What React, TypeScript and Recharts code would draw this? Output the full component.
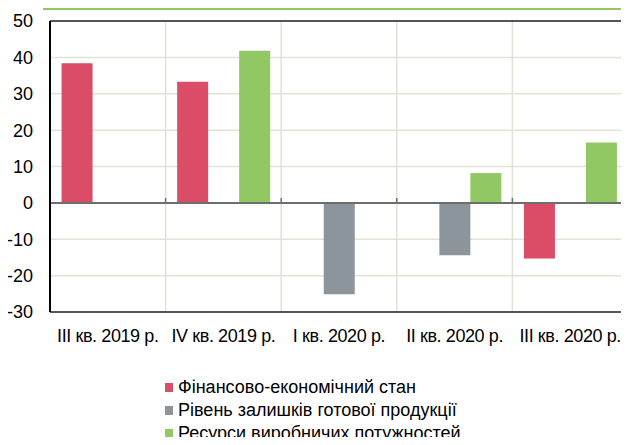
import { BarChart, Bar, XAxis, YAxis, CartesianGrid, ReferenceLine } from 'recharts'

const quarters = ['III кв. 2019 р.', 'IV кв. 2019 р.', 'I кв. 2020 р.', 'II кв. 2020 р.', 'III кв. 2020 р.']
const financial = [38.4, 33.3, 0, 0, -15.3]
const stocks = [0, 0, -25.1, -14.4, 0]
const capacity = [0, 41.8, 0, 8.2, 16.6]
const yTicks = [-30, -20, -10, 0, 10, 20, 30, 40, 50]

const seriesNames = ['Фінансово-економічний стан', 'Рівень залишків готової продукції', 'Ресурси виробничих потужностей']
const seriesColors = ['#DB4C66', '#8D959C', '#92C864']

const data = quarters.map((q, i) => ({
  name: q,
  financial: financial[i],
  stocks: stocks[i],
  capacity: capacity[i],
}))

const FONT = '"Liberation Sans", Arial, sans-serif'
const GRID = '#E2E2D4'

function LegendBox() {
  return (
    <div style={{ position: 'absolute', left: 165, top: 376, fontFamily: FONT, fontSize: 18, color: '#000', lineHeight: '23px' }}>
      {seriesNames.map((n, i) => (
        <div key={n} style={{ display: 'flex', alignItems: 'center', whiteSpace: 'nowrap' }}>
          <span style={{ width: 8, height: 9, background: seriesColors[i], marginRight: 5, display: 'inline-block' }} />
          {n}
        </div>
      ))}
    </div>
  )
}

// zero line with small tick marks at category boundaries
const ZeroLine = (props: any) => {
  const { x1, x2, y1 } = props
  const step = (x2 - x1) / quarters.length
  return (
    <g>
      <line x1={x1} x2={x2} y1={y1} y2={y1} stroke="#6E6E6E" strokeWidth={2} />
      {quarters.slice(1).map((_, i) => (
        <line key={i} x1={x1 + step * (i + 1)} x2={x1 + step * (i + 1)} y1={y1} y2={y1 - 5} stroke="#6E6E6E" strokeWidth={1.5} />
      ))}
    </g>
  )
}

export default function App() {
  return (
    <div style={{ position: 'relative', width: 629, height: 445, margin: -8, background: '#fff', overflow: 'hidden' }}>
      <div style={{ position: 'absolute', left: 43, right: 0, top: 8, height: 2, background: '#92C864' }} />
      <BarChart
        width={629}
        height={445}
        data={data}
        margin={{ top: 21, right: 1, bottom: 103, left: 0 }}
        barCategoryGap="10%"
        barGap={0}
      >
        <CartesianGrid
          stroke={GRID}
          strokeWidth={1.5}
          verticalCoordinatesGenerator={({ offset }: any) =>
            quarters.map((_, i) => offset.left + (offset.width * i) / quarters.length).concat(offset.left + offset.width)
          }
        />
        <XAxis
          dataKey="name"
          height={30}
          axisLine={{ stroke: '#555', strokeWidth: 2 }}
          tickLine={false}
          tick={{ fontSize: 18, fill: '#000', fontFamily: FONT, letterSpacing: -0.4 }}
          tickMargin={11}
          interval={0}
        />
        <YAxis
          width={50}
          domain={[-30, 50]}
          ticks={yTicks}
          axisLine={{ stroke: '#000', strokeWidth: 2 }}
          tickLine={false}
          tickSize={6}
          tick={{ fontSize: 18, fill: '#000', fontFamily: FONT }}
          tickMargin={11}
        />
        <ReferenceLine y={0} shape={ZeroLine} />
        <ReferenceLine y={50} stroke="#555" strokeWidth={2} />
        <Bar dataKey="financial" name={seriesNames[0]} fill={seriesColors[0]} isAnimationActive={false} />
        <Bar dataKey="stocks" name={seriesNames[1]} fill={seriesColors[1]} isAnimationActive={false} />
        <Bar dataKey="capacity" name={seriesNames[2]} fill={seriesColors[2]} isAnimationActive={false} />
      </BarChart>
      <LegendBox />
    </div>
  )
}
